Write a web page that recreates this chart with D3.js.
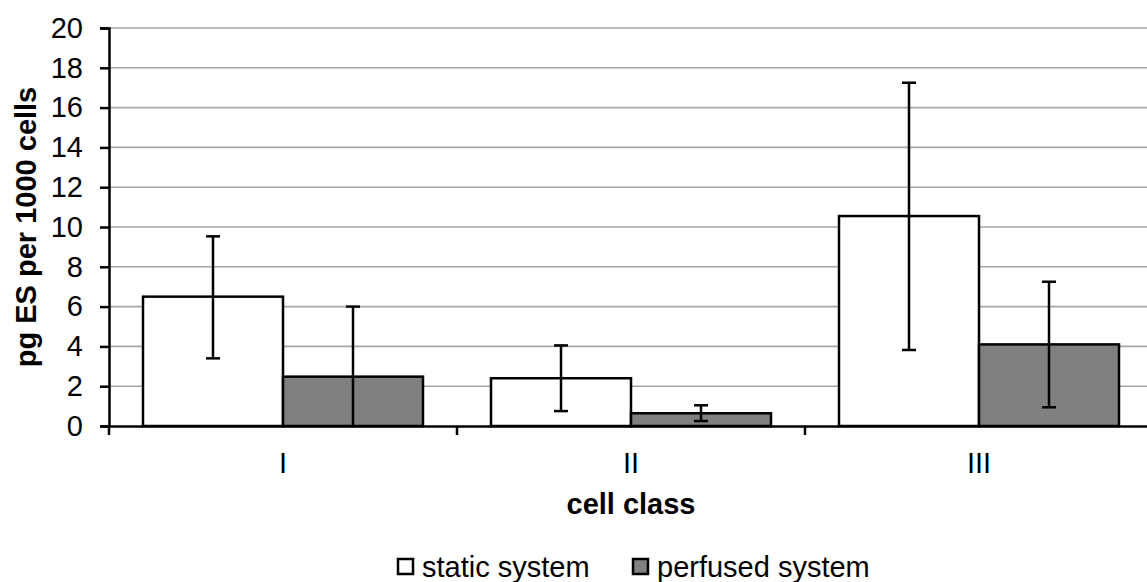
<!DOCTYPE html>
<html>
<meta charset="utf-8">
<script src="https://d3js.org/d3.v7.min.js"></script>
<style>
  body { margin: 0; background: #fff; }
  text { font-family: "Liberation Sans", Arial, sans-serif; }
</style>
<body>
<div id="chart"></div>
<script>
  // data
  var categories = ["I", "II", "III"];
  var seriesNames = ["static system", "perfused system"];
  var seriesColors = ["#ffffff", "#808080"];
  var staticMean = [6.5, 2.4, 10.55];
  var staticLow = [3.4, 0.75, 3.82];
  var staticHigh = [9.53, 4.05, 17.25];
  var perfusedMean = [2.48, 0.64, 4.1];
  var perfusedLow = [-1.0, 0.25, 0.94];
  var perfusedHigh = [6.0, 1.04, 7.25];
  var yTicks = [0, 2, 4, 6, 8, 10, 12, 14, 16, 18, 20];

  var margin = {top: 28, right: 0, bottom: 156, left: 109},
      width = 1044,
      height = 426 - 28;

  var svg = d3.select("#chart")
    .append("svg")
      .attr("width", 1147)
      .attr("height", 582)
    .append("g")
      .attr("transform", "translate(" + margin.left + "," + margin.top + ")");

  var x0 = d3.scaleBand()
    .domain(categories)
    .range([0, width]);

  var x1 = d3.scaleBand()
    .domain([0, 1])
    .range([34, x0.bandwidth() - 34]);

  var y = d3.scaleLinear()
    .domain([0, 20])
    .range([height, 0]);

  // gridlines
  svg.selectAll(".grid")
    .data(yTicks.slice(1))
    .enter()
    .append("line")
      .attr("x1", 0)
      .attr("x2", width)
      .attr("y1", function(d) { return y(d); })
      .attr("y2", function(d) { return y(d); })
      .attr("stroke", "#a6a6a6")
      .attr("stroke-width", 1.6);

  var flat = [];
  categories.forEach(function(c, i) {
    flat.push({cat: c, s: 0, v: staticMean[i], lo: staticLow[i], hi: staticHigh[i]});
    flat.push({cat: c, s: 1, v: perfusedMean[i], lo: perfusedLow[i], hi: perfusedHigh[i]});
  });

  svg.selectAll(".bar")
    .data(flat)
    .enter()
    .append("rect")
      .attr("x", function(d) { return x0(d.cat) + x1(d.s); })
      .attr("y", function(d) { return y(d.v); })
      .attr("width", x1.bandwidth())
      .attr("height", function(d) { return height - y(d.v); })
      .attr("fill", function(d) { return seriesColors[d.s]; })
      .attr("stroke", "#000")
      .attr("stroke-width", 2.5);

  // error bars
  var cx = function(d) { return x0(d.cat) + x1(d.s) + x1.bandwidth() / 2; };
  svg.selectAll(".err")
    .data(flat)
    .enter()
    .append("line")
      .attr("x1", cx)
      .attr("x2", cx)
      .attr("y1", function(d) { return y(Math.max(0, d.lo)); })
      .attr("y2", function(d) { return y(d.hi); })
      .attr("stroke", "#000")
      .attr("stroke-width", 2.5);

  var caps = [];
  flat.forEach(function(d) {
    caps.push({d: d, v: d.hi});
    if (d.lo >= 0) caps.push({d: d, v: d.lo});
  });
  svg.selectAll(".cap")
    .data(caps)
    .enter()
    .append("line")
      .attr("x1", function(c) { return cx(c.d) - 7; })
      .attr("x2", function(c) { return cx(c.d) + 7; })
      .attr("y1", function(c) { return y(c.v); })
      .attr("y2", function(c) { return y(c.v); })
      .attr("stroke", "#000")
      .attr("stroke-width", 2.5);

  // y axis
  var yAxis = svg.append("g")
    .call(d3.axisLeft(y).tickValues(yTicks).tickSizeOuter(0).tickSize(9).tickPadding(17));
  yAxis.select(".domain").attr("stroke-width", 2.5);
  yAxis.selectAll(".tick line").attr("stroke-width", 2.5);
  yAxis.selectAll("text")
    .style("font-size", "29px")
    .attr("fill", "#000");

  // x axis
  var xAxis = svg.append("g")
    .attr("transform", "translate(0," + height + ")")
    .call(d3.axisBottom(x0).tickSize(0).tickPadding(26));
  xAxis.select(".domain").attr("stroke-width", 2.5);
  xAxis.selectAll("text")
    .style("font-size", "29px")
    .attr("fill", "#000");

  // category separator ticks
  svg.selectAll(".sep")
    .data([0].concat(categories.map(function(c) { return x0(c) + x0.bandwidth(); })))
    .enter()
    .append("line")
      .attr("x1", function(d) { return d; })
      .attr("x2", function(d) { return d; })
      .attr("y1", height)
      .attr("y2", height + 9)
      .attr("stroke", "#000")
      .attr("stroke-width", 2.5);

  // axis titles
  svg.append("text")
    .attr("x", 631 - margin.left)
    .attr("y", 514 - margin.top)
    .attr("text-anchor", "middle")
    .style("font-size", "29px")
    .style("font-weight", "bold")
    .text("cell class");

  svg.append("text")
    .attr("transform", "translate(" + (36 - margin.left) + "," + (227 - margin.top) + ")rotate(-90)")
    .attr("text-anchor", "middle")
    .style("font-size", "29px")
    .style("font-weight", "bold")
    .text("pg ES per 1000 cells");

  // legend
  var legend = svg.append("g")
    .attr("transform", "translate(" + (398 - margin.left) + "," + (559 - margin.top) + ")");
  var legX = [0, 235];
  seriesNames.forEach(function(name, i) {
    legend.append("rect")
      .attr("x", legX[i])
      .attr("y", 0)
      .attr("width", 15)
      .attr("height", 15)
      .attr("fill", seriesColors[i])
      .attr("stroke", "#000")
      .attr("stroke-width", 2.5);
    legend.append("text")
      .attr("x", legX[i] + 24)
      .attr("y", 18)
      .style("font-size", "29px")
      .text(name);
  });
</script>
</body>
</html>
